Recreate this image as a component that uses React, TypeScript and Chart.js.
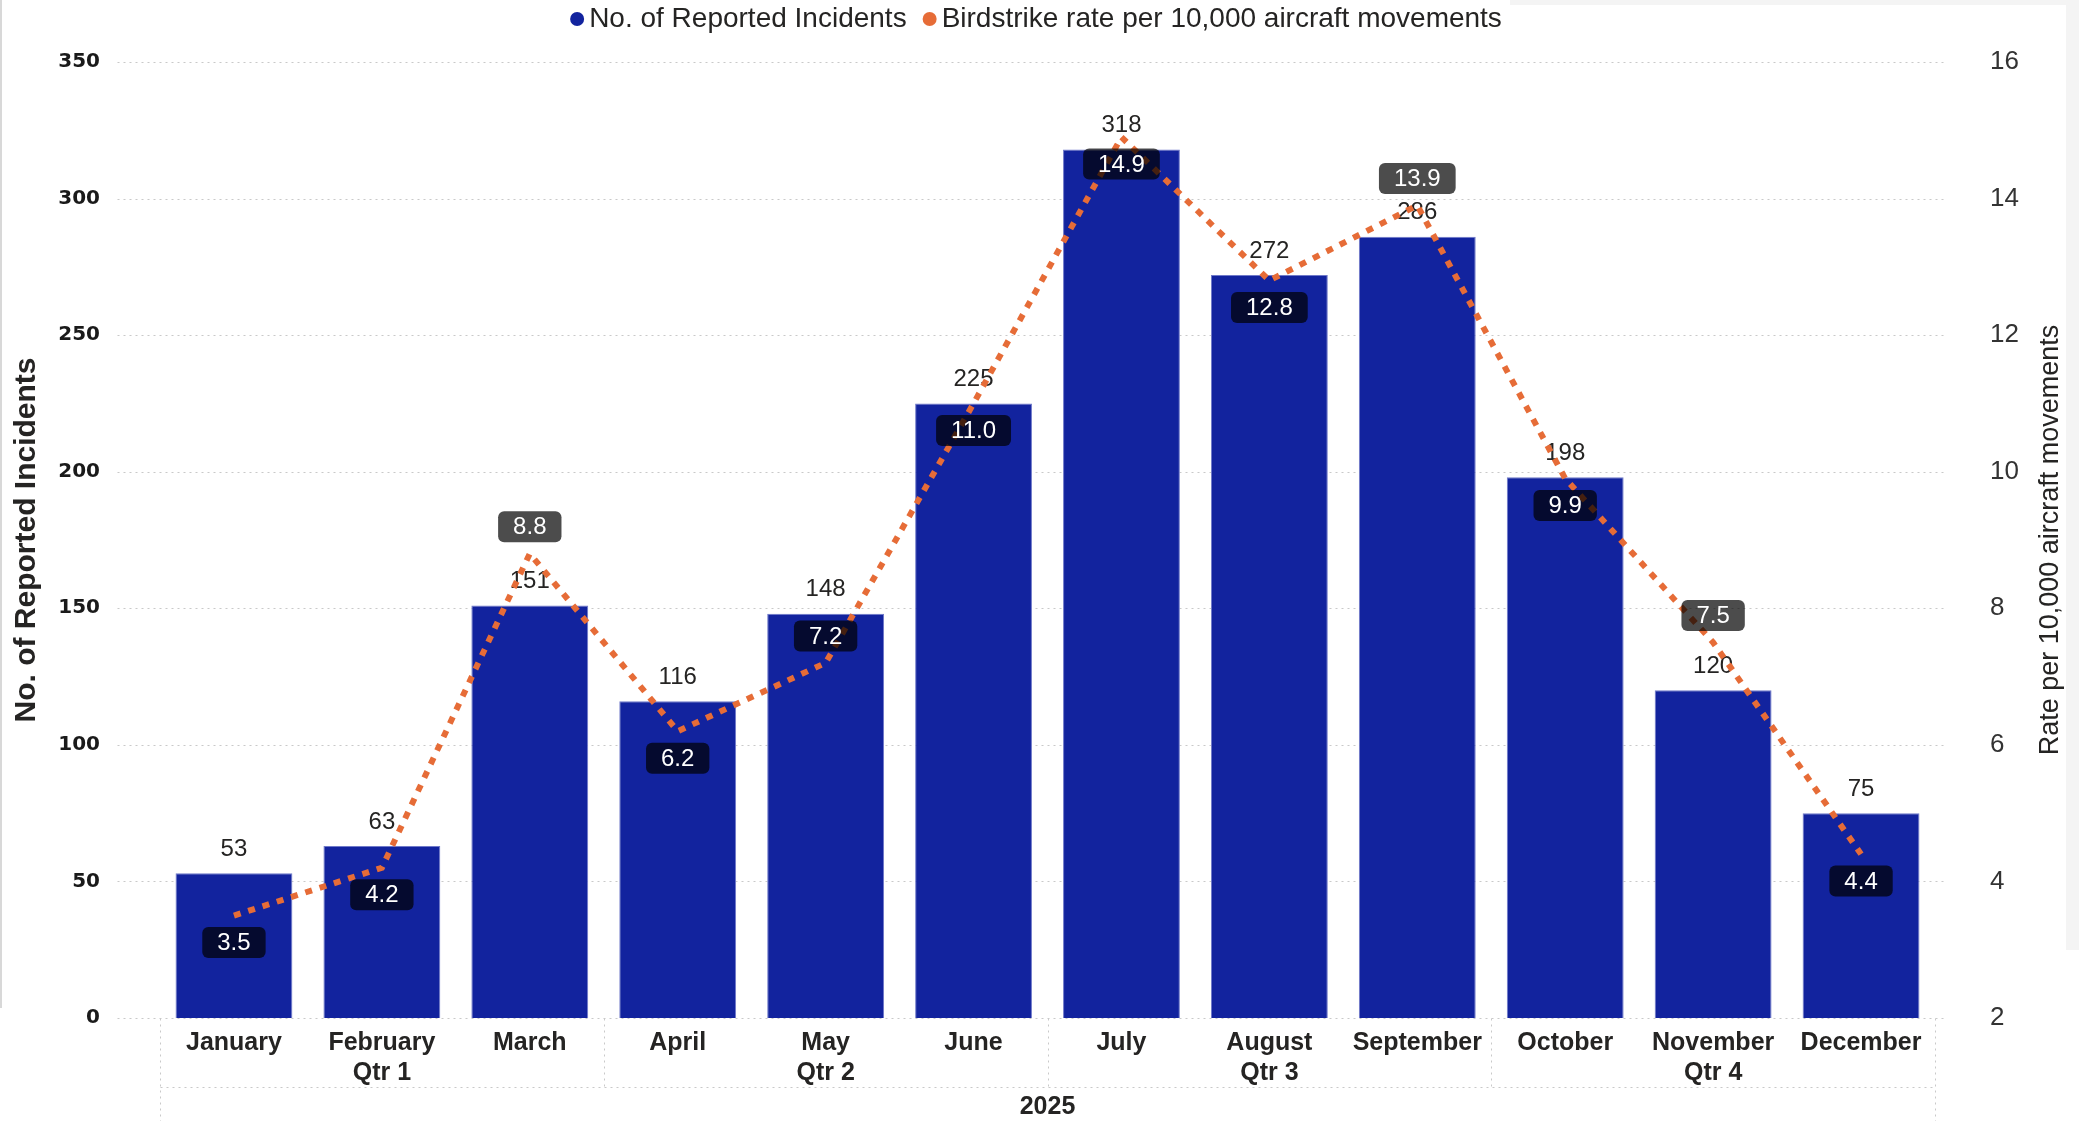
import React, { useEffect, useRef } from 'react';
import { Chart, registerables } from 'chart.js';

Chart.register(...registerables);

// ---- data ----
const months = ['January', 'February', 'March', 'April', 'May', 'June', 'July', 'August', 'September', 'October', 'November', 'December'];
const quarters = ['Qtr 1', 'Qtr 2', 'Qtr 3', 'Qtr 4'];
const yearLabel = '2025';
const incidents = [53, 63, 151, 116, 148, 225, 318, 272, 286, 198, 120, 75];
const rates = [3.5, 4.2, 8.8, 6.2, 7.2, 11.0, 14.9, 12.8, 13.9, 9.9, 7.5, 4.4];
const seriesNames = ['No. of Reported Incidents', 'Birdstrike rate per 10,000 aircraft movements'];
const leftAxisTitle = 'No. of Reported Incidents';
const rightAxisTitle = 'Rate per 10,000 aircraft movements';
const leftAxisRange = { min: 0, max: 350, step: 50 };
const rightAxisRange = { min: 2, max: 16, step: 2 };

// ---- style ----
const BAR_COLOR = '#12239E';
const LINE_COLOR = '#E66C37';
const TEXT = '#252423';
const GRID = '#c9c9c9';
const SANS = '"Liberation Sans", Arial, sans-serif';
const rateLabelAbove = new Set([2, 4, 8, 10]);

function dotted(ctx: CanvasRenderingContext2D, x1: number, y1: number, x2: number, y2: number) {
  ctx.save();
  ctx.strokeStyle = GRID;
  ctx.lineWidth = 1;
  ctx.setLineDash([2, 4]);
  ctx.beginPath();
  ctx.moveTo(Math.round(x1) + 0.5, Math.round(y1) + 0.5);
  ctx.lineTo(Math.round(x2) + 0.5, Math.round(y2) + 0.5);
  ctx.stroke();
  ctx.restore();
}

const customPlugin = {
  id: 'custom',
  beforeDraw(chart: any) {
    const ctx: CanvasRenderingContext2D = chart.ctx;
    ctx.save();
    ctx.fillStyle = '#ffffff';
    ctx.fillRect(0, 0, chart.width, chart.height);
    ctx.fillStyle = '#f4f4f4';
    ctx.fillRect(2066, 0, 13, 950);
    ctx.fillRect(1510, 0, 569, 5);
    ctx.fillStyle = '#d8d8d8';
    ctx.fillRect(0, 0, 2, 1008);
    ctx.restore();
  },
  beforeDatasetsDraw(chart: any) {
    const ctx: CanvasRenderingContext2D = chart.ctx;
    const ys = chart.scales.y;
    const xs = chart.scales.x;
    const ca = chart.chartArea;
    const gl = ca.left - 43;
    const gr = ca.right + 8;
    for (let v = leftAxisRange.min; v <= leftAxisRange.max; v += leftAxisRange.step) {
      const y = ys.getPixelForValue(v);
      dotted(ctx, gl, y, gr, y);
    }
    // hierarchical x axis structure
    const catW = (xs.right - xs.left) / months.length;
    const rowLine = ca.bottom + 69;
    dotted(ctx, xs.left, rowLine, xs.right, rowLine);
    for (let k = 0; k <= months.length; k += 3) {
      const x = xs.left + k * catW;
      const outer = k === 0 || k === months.length;
      dotted(ctx, x, ca.bottom, x, outer ? chart.height : rowLine);
    }
  },
  afterDatasetDraw(chart: any, args: any) {
    if (args.index !== 0) return;
    const ctx: CanvasRenderingContext2D = chart.ctx;
    const meta = chart.getDatasetMeta(0);
    ctx.save();
    ctx.font = `24px ${SANS}`;
    ctx.fillStyle = TEXT;
    ctx.textAlign = 'center';
    ctx.textBaseline = 'middle';
    meta.data.forEach((bar: any, i: number) => {
      ctx.fillText(String(incidents[i]), bar.x, bar.y - 24);
    });
    ctx.restore();
  },
  afterDatasetsDraw(chart: any) {
    const ctx: CanvasRenderingContext2D = chart.ctx;
    const ca = chart.chartArea;
    const xs = chart.scales.x;
    // rate labels
    const meta = chart.getDatasetMeta(1);
    ctx.save();
    ctx.font = `24px ${SANS}`;
    ctx.textAlign = 'center';
    ctx.textBaseline = 'middle';
    meta.data.forEach((pt: any, i: number) => {
      const txt = rates[i].toFixed(1);
      const w = ctx.measureText(txt).width + 30;
      const h = 31;
      const cy = rateLabelAbove.has(i) ? pt.y - 27 : pt.y + 27;
      ctx.fillStyle = 'rgba(0,0,0,0.7)';
      ctx.beginPath();
      (ctx as any).roundRect(pt.x - w / 2, cy - h / 2, w, h, 6);
      ctx.fill();
      ctx.fillStyle = '#ffffff';
      ctx.fillText(txt, pt.x, cy + 1);
    });
    ctx.restore();

    // x axis labels
    ctx.save();
    ctx.fillStyle = TEXT;
    ctx.textAlign = 'center';
    ctx.textBaseline = 'middle';
    ctx.font = `bold 25px ${SANS}`;
    months.forEach((m, i) => {
      ctx.fillText(m, xs.getPixelForValue(i), ca.bottom + 25);
    });
    quarters.forEach((q, k) => {
      ctx.fillText(q, xs.getPixelForValue(k * 3 + 1), ca.bottom + 55);
    });
    ctx.fillText(yearLabel, (xs.left + xs.right) / 2, ca.bottom + 89);
    ctx.restore();

    // axis titles
    ctx.save();
    ctx.fillStyle = TEXT;
    ctx.textAlign = 'center';
    ctx.textBaseline = 'middle';
    ctx.translate(27, (ca.top + ca.bottom) / 2);
    ctx.rotate(-Math.PI / 2);
    ctx.font = `bold 30px ${SANS}`;
    ctx.fillText(leftAxisTitle, 0, 0);
    ctx.restore();
    ctx.save();
    ctx.fillStyle = TEXT;
    ctx.textAlign = 'center';
    ctx.textBaseline = 'middle';
    ctx.translate(2051, (ca.top + ca.bottom) / 2);
    ctx.rotate(-Math.PI / 2);
    ctx.font = `27px ${SANS}`;
    ctx.fillText(rightAxisTitle, 0, 0);
    ctx.restore();

    // legend
    ctx.save();
    ctx.font = `28px ${SANS}`;
    ctx.textBaseline = 'middle';
    ctx.textAlign = 'left';
    const colors = [BAR_COLOR, LINE_COLOR];
    const dot = 14;
    const gapDot = 5;
    const gapItem = 16;
    const widths = seriesNames.map((n) => dot + gapDot + ctx.measureText(n).width);
    const total = widths[0] + widths[1] + gapItem;
    let x = 1036 - total / 2;
    const ly = 19;
    seriesNames.forEach((n, i) => {
      ctx.fillStyle = colors[i];
      ctx.beginPath();
      ctx.arc(x + dot / 2, ly, dot / 2, 0, Math.PI * 2);
      ctx.fill();
      ctx.fillStyle = TEXT;
      ctx.fillText(n, x + dot + gapDot, ly);
      x += widths[i] + gapItem;
    });
    ctx.restore();
  },
};

export default function App() {
  const ref = useRef<HTMLCanvasElement>(null);
  useEffect(() => {
    const chart = new Chart(ref.current as HTMLCanvasElement, {
      type: 'bar',
      data: {
        labels: months,
        datasets: [
          {
            type: 'bar',
            label: seriesNames[0],
            data: incidents,
            backgroundColor: BAR_COLOR,
            borderColor: '#6f79c9',
            borderWidth: 1,
            barPercentage: 0.79,
            categoryPercentage: 1,
            yAxisID: 'y',
            order: 1,
          },
          {
            type: 'line',
            label: seriesNames[1],
            data: rates,
            borderColor: LINE_COLOR,
            backgroundColor: LINE_COLOR,
            borderWidth: 6,
            borderDash: [7, 8],
            pointRadius: 0,
            tension: 0,
            fill: false,
            yAxisID: 'y1',
            order: 0,
          },
        ],
      } as any,
      options: {
        animation: false,
        responsive: true,
        maintainAspectRatio: false,
        layout: { autoPadding: false, padding: { top: 62, bottom: 103, left: 0, right: 0 } },
        plugins: { legend: { display: false }, tooltip: { enabled: false } },
        scales: {
          x: { type: 'category', display: false, offset: true },
          y: {
            position: 'left',
            min: leftAxisRange.min,
            max: leftAxisRange.max,
            ticks: {
              stepSize: leftAxisRange.step,
              padding: 60,
              color: '#1a1a1a',
              font: { family: '"DejaVu Sans"', weight: 'bold', size: 20 },
            },
            grid: { display: false, drawTicks: false },
            border: { display: false },
            afterFit: (s: any) => { s.width = 160; s.paddingTop = 0; s.paddingBottom = 0; },
          },
          y1: {
            position: 'right',
            min: rightAxisRange.min,
            max: rightAxisRange.max,
            ticks: {
              stepSize: rightAxisRange.step,
              padding: 55,
              color: '#333333',
              font: { family: SANS, size: 26 },
            },
            grid: { display: false, drawTicks: false },
            border: { display: false },
            afterFit: (s: any) => { s.width = 144; s.paddingTop = 0; s.paddingBottom = 0; },
          },
        },
      } as any,
      plugins: [customPlugin],
    });
    return () => chart.destroy();
  }, []);
  return (
    <div style={{ position: 'fixed', left: 0, top: 0, width: 2079, height: 1121, background: '#fff' }}>
      <canvas ref={ref} />
    </div>
  );
}
